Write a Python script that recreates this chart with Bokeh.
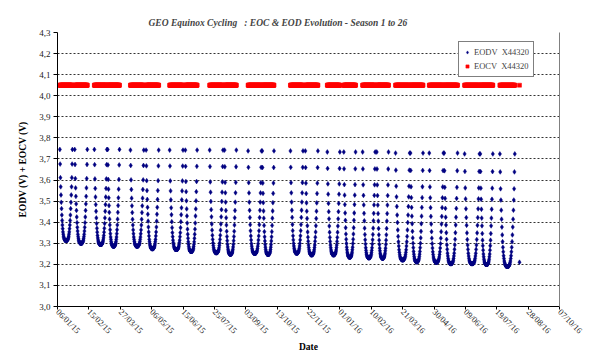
import numpy as np
import pandas as pd
from bokeh.plotting import figure
from bokeh.models import (FixedTicker, DatetimeTickFormatter, Range1d, LinearAxis,
                          Legend, LegendItem, ColumnDataSource)
from bokeh.embed import file_html
from bokeh.resources import INLINE

# --- data -------------------------------------------------------------------
# first / last cycle date of each eclipse season
season_start = ["2015-01-09", "2015-01-28", "2015-02-22", "2015-03-11", "2015-04-09",
                "2015-04-29", "2015-05-29", "2015-06-18", "2015-07-19", "2015-08-07",
                "2015-09-06", "2015-09-24", "2015-10-30", "2015-11-18", "2015-12-16",
                "2016-01-06", "2016-01-30", "2016-02-17", "2016-03-12", "2016-03-31",
                "2016-04-24", "2016-05-13", "2016-06-08", "2016-06-28", "2016-07-23"]
season_end = ["2015-01-25", "2015-02-13", "2015-03-10", "2015-03-26", "2015-04-26",
              "2015-05-15", "2015-06-15", "2015-07-03", "2015-08-05", "2015-08-22",
              "2015-09-23", "2015-10-09", "2015-11-15", "2015-12-04", "2016-01-01",
              "2016-01-21", "2016-02-15", "2016-03-03", "2016-03-30", "2016-04-16",
              "2016-05-12", "2016-05-30", "2016-06-27", "2016-07-14", "2016-08-11"]
# end-of-discharge voltage at the shortest eclipse of each season (V)
eod_top = [3.745, 3.745, 3.745, 3.745, 3.742, 3.742, 3.742, 3.742, 3.742, 3.742,
           3.738, 3.738, 3.738, 3.738, 3.733, 3.733, 3.733, 3.733, 3.728, 3.728,
           3.728, 3.728, 3.724, 3.724, 3.724]
# end-of-discharge voltage at the longest eclipse of each season (V)
eod_min = [3.313, 3.300, 3.294, 3.286, 3.286, 3.274, 3.270, 3.261, 3.255, 3.248,
           3.252, 3.247, 3.253, 3.245, 3.245, 3.234, 3.231, 3.229, 3.221, 3.212,
           3.210, 3.203, 3.203, 3.199, 3.190]
# end-of-charge voltage of each season (V)
eoc_level = [4.05] * 25
# relative discharge depth over the first half of a season (cycle 1 .. mid-season)
depth_half = [0.00, 0.16, 0.31, 0.41, 0.50, 0.58, 0.65, 0.72, 0.78, 0.83, 0.87, 0.905,
              0.93, 0.952, 0.968, 0.98, 0.988, 0.994, 0.997, 0.999, 1.0, 1.0, 1.0]
# last logged cycle after season 25
extra_date = ["2016-08-17"]
extra_eod = [3.21]
extra_eoc = [4.05]

y_ticks = [3.0, 3.1, 3.2, 3.3, 3.4, 3.5, 3.6, 3.7, 3.8, 3.9, 4.0, 4.1, 4.2, 4.3]
y_tick_labels = ["3,0", "3,1", "3,2", "3,3", "3,4", "3,5", "3,6", "3,7", "3,8", "3,9",
                 "4,0", "4,1", "4,2", "4,3"]
x_ticks = ["2015-01-06", "2015-02-15", "2015-03-27", "2015-05-06", "2015-06-15",
           "2015-07-25", "2015-09-03", "2015-10-13", "2015-11-22", "2016-01-01",
           "2016-02-10", "2016-03-21", "2016-04-30", "2016-06-09", "2016-07-19",
           "2016-08-28", "2016-10-07"]

# --- build per-cycle series -------------------------------------------------
depth = depth_half + depth_half[-2::-1]
n_cyc = len(depth)
dates, eod, eoc = [], [], []
for s, e, top, low, ch in zip(season_start, season_end, eod_top, eod_min, eoc_level):
    t = pd.date_range(s, e, periods=n_cyc)
    dates.extend(t)
    eod.extend([top - (top - low) * d for d in depth])
    eoc.extend([ch] * n_cyc)
dates.extend(pd.to_datetime(extra_date))
eod.extend(extra_eod)
eoc.extend(extra_eoc)
src = ColumnDataSource(dict(date=dates, eod=eod, eoc=eoc))

# --- figure -----------------------------------------------------------------
serif = "Liberation Serif"
x0 = pd.Timestamp(x_ticks[0])
x1 = pd.Timestamp(x_ticks[-1])
p = figure(width=589, height=356, x_axis_type="datetime",
           x_range=Range1d(x0, x1), y_range=Range1d(3.0, 4.3),
           output_backend="svg", toolbar_location=None,
           min_border_left=57, min_border_right=30, min_border_top=32,
           min_border_bottom=50)
p.outline_line_color = None
p.background_fill_color = "white"
p.border_fill_color = "white"

p.title.text = "GEO Equinox Cycling \u00a0 : EOC & EOD Evolution - Season 1 to 26"
p.title.text_font = serif
p.title.text_font_style = "bold italic"
p.title.text_font_size = "9.5px"
p.title.align = "left"
p.title.offset = 91

r_eoc = p.scatter("date", "eoc", source=src, marker="square", size=4,
                  fill_color="#FF0000", line_color="#FF0000", line_width=0.5)
r_eod = p.scatter("date", "eod", source=src, marker="diamond", size=4.8,
                  fill_color="#000080", line_color="#000080", line_width=0.5)

# axes
p.yaxis.ticker = FixedTicker(ticks=y_ticks)
p.yaxis.major_label_overrides = dict(zip(y_ticks, y_tick_labels))
p.yaxis.axis_label = "EODV (V) + EOCV (V)"
p.xaxis.ticker = FixedTicker(ticks=[pd.Timestamp(d).value / 1e6 for d in x_ticks])
fmt = "%d/%m/%y"
p.xaxis.formatter = DatetimeTickFormatter(days=fmt, months=fmt, years=fmt,
                                          hours=fmt, minutes=fmt)
p.xaxis.major_label_orientation = -np.pi / 4
p.xaxis.axis_label = "Date"
for ax in (p.xaxis[0], p.yaxis[0]):
    ax.axis_line_color = "black"
    ax.major_tick_line_color = "black"
    ax.major_tick_out = 4
    ax.major_tick_in = 0
    ax.minor_tick_line_color = None
    ax.major_label_text_font = serif
    ax.major_label_text_font_size = "9px"
    ax.major_label_text_color = "#222222"
    ax.axis_label_text_font = serif
    ax.axis_label_text_font_style = "bold"
    ax.axis_label_text_font_size = "9.5px"
    ax.axis_label_text_color = "black"
p.xaxis.major_tick_out = 3
p.xaxis.major_label_text_font_size = "8.5px"
p.yaxis.major_label_standoff = 3
p.yaxis.axis_label_standoff = 8
p.xaxis.major_label_standoff = 1
p.xaxis.axis_label_standoff = 0

# plain right-hand frame edge
edge = LinearAxis(ticker=FixedTicker(ticks=[]), axis_line_color="#808080",
                  major_tick_line_color=None, minor_tick_line_color=None)
p.add_layout(edge, "right")

p.xgrid.grid_line_color = None
p.ygrid.ticker = FixedTicker(ticks=y_ticks)
p.ygrid.grid_line_color = "#333333"
p.ygrid.grid_line_dash = "2 2"
p.ygrid.grid_line_width = 1

legend = Legend(items=[LegendItem(label="EODV \u00a0X44320", renderers=[r_eod]),
                       LegendItem(label="EOCV \u00a0X44320", renderers=[r_eoc])],
                location=(401, 229), padding=4, spacing=2, margin=0,
                glyph_width=8, glyph_height=12, label_standoff=3, label_height=12,
                label_text_font=serif, label_text_font_size="8.5px",
                border_line_color="black", border_line_width=1,
                background_fill_color="white", background_fill_alpha=1)
p.add_layout(legend)

open("out.html", "w").write(file_html(p, INLINE))
